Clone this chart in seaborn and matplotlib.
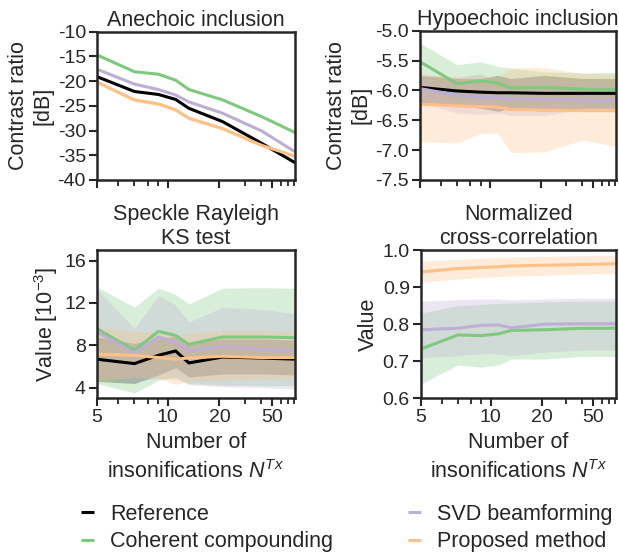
import numpy as np
import pandas as pd
import seaborn as sns
import matplotlib.pyplot as plt
from matplotlib.ticker import FixedLocator, NullFormatter

# 1. data
n_tx = [5, 7, 9, 11, 13, 21, 41, 81]
methods = ['Reference', 'Coherent compounding', 'SVD beamforming', 'Proposed method']

# anechoic contrast ratio [dB]
ane_ref = [-19.1, -22.1, -22.7, -23.7, -25.5, -28.2, -32.6, -36.5]
ane_cc = [-14.7, -18.1, -18.6, -19.8, -21.7, -23.8, -27.2, -30.4]
ane_svd = [-17.6, -20.6, -21.7, -22.8, -24.2, -26.5, -30.1, -34.3]
ane_prop = [-20.2, -23.8, -24.6, -25.8, -27.5, -29.6, -33.0, -35.2]
ane_prop_lo = [-20.6, -24.2, -25.0, -26.2, -27.9, -30.0, -33.4, -35.6]
ane_prop_hi = [-19.8, -23.4, -24.2, -25.4, -27.1, -29.2, -32.6, -34.8]

# hypoechoic contrast ratio [dB]
hyp_ref = [-5.95, -6.01, -6.03, -6.04, -6.04, -6.05, -6.05, -6.05]
hyp_ref_lo = [-6.20, -6.25, -6.30, -6.35, -6.30, -6.35, -6.30, -6.30]
hyp_ref_hi = [-5.75, -5.80, -5.80, -5.75, -5.80, -5.75, -5.80, -5.80]
hyp_cc = [-5.52, -5.89, -5.84, -5.88, -5.96, -5.95, -5.98, -5.99]
hyp_cc_lo = [-5.83, -6.20, -6.15, -6.17, -6.28, -6.22, -6.25, -6.28]
hyp_cc_hi = [-5.21, -5.57, -5.52, -5.60, -5.63, -5.69, -5.71, -5.70]
hyp_svd = [-5.97, -6.08, -6.11, -6.13, -6.14, -6.15, -6.16, -6.17]
hyp_svd_lo = [-6.20, -6.38, -6.40, -6.38, -6.42, -6.42, -6.32, -6.35]
hyp_svd_hi = [-5.75, -5.78, -5.72, -5.88, -5.80, -5.78, -5.85, -5.88]
hyp_prop = [-6.23, -6.26, -6.27, -6.28, -6.32, -6.33, -6.34, -6.34]
hyp_prop_lo = [-6.86, -6.88, -6.72, -6.72, -7.04, -7.03, -6.83, -6.94]
hyp_prop_hi = [-5.72, -5.78, -5.75, -5.78, -5.62, -5.62, -5.72, -5.72]

# speckle rayleigh KS test [1e-3]
spk_ref = [6.69, 6.28, 7.06, 7.47, 6.34, 6.90, 6.80, 6.70]
spk_ref_lo = [4.6, 4.4, 5.2, 5.9, 5.0, 5.3, 5.3, 5.2]
spk_ref_hi = [8.8, 8.2, 8.6, 8.9, 8.2, 8.6, 8.6, 8.5]
spk_cc = [9.57, 7.53, 9.32, 8.94, 8.10, 8.79, 8.79, 8.73]
spk_cc_lo = [4.4, 3.5, 4.7, 5.0, 4.4, 4.25, 4.2, 4.2]
spk_cc_hi = [13.5, 11.6, 13.4, 12.8, 11.9, 13.4, 13.45, 13.4]
spk_svd = [9.26, 7.28, 8.79, 8.32, 7.47, 7.91, 7.60, 7.47]
spk_svd_lo = [5.2, 4.6, 4.9, 4.8, 4.3, 4.1, 4.0, 3.9]
spk_svd_hi = [13.3, 9.6, 12.7, 11.8, 10.2, 11.6, 11.4, 11.0]
spk_prop = [7.16, 7.06, 6.85, 6.69, 6.81, 6.97, 6.85, 6.85]
spk_prop_lo = [4.6, 5.0, 4.9, 4.3, 4.6, 4.7, 4.8, 4.9]
spk_prop_hi = [9.7, 9.3, 9.3, 9.0, 9.1, 9.4, 9.4, 9.3]

# normalized cross-correlation
ncc_cc = [0.733, 0.771, 0.769, 0.774, 0.783, 0.785, 0.789, 0.789]
ncc_cc_lo = [0.639, 0.690, 0.684, 0.690, 0.706, 0.706, 0.713, 0.713]
ncc_cc_hi = [0.830, 0.850, 0.853, 0.856, 0.857, 0.860, 0.862, 0.862]
ncc_svd = [0.785, 0.789, 0.797, 0.798, 0.790, 0.800, 0.801, 0.801]
ncc_svd_lo = [0.710, 0.715, 0.720, 0.720, 0.715, 0.725, 0.730, 0.730]
ncc_svd_hi = [0.862, 0.866, 0.868, 0.868, 0.865, 0.868, 0.870, 0.870]
ncc_prop = [0.941, 0.950, 0.953, 0.955, 0.957, 0.959, 0.961, 0.963]
ncc_prop_lo = [0.913, 0.922, 0.926, 0.928, 0.930, 0.932, 0.935, 0.937]
ncc_prop_hi = [0.970, 0.975, 0.978, 0.980, 0.981, 0.983, 0.985, 0.986]

# 2. style
sns.set_style('ticks')
plt.rcParams['font.family'] = ['Liberation Sans', 'DejaVu Sans']
plt.rcParams['mathtext.fontset'] = 'custom'
plt.rcParams['mathtext.rm'] = 'Liberation Sans'
plt.rcParams['mathtext.it'] = 'Liberation Sans:italic'
plt.rcParams['axes.unicode_minus'] = False

acc = sns.color_palette('Accent')
palette = {'Reference': 'black', 'Coherent compounding': acc[0],
           'SVD beamforming': acc[1], 'Proposed method': acc[2]}

TICK_FS = 14
LABEL_FS = 15.5


def loglog_fwd(x):
    with np.errstate(invalid='ignore', divide='ignore'):
        return np.log(np.log(np.asarray(x, dtype=float)))


def loglog_inv(y):
    return np.exp(np.exp(y))


def draw_panel(ax, series, bands, title, ylabel, ylim, yticks, ytick_labels, bottom):
    # bands first, then the lines through seaborn
    for name, (lo, hi) in bands.items():
        ax.fill_between(n_tx, lo, hi, color=palette[name], alpha=0.3, lw=0)
    rows = []
    for name, vals in series.items():
        rows += [{'n_tx': x, 'value': v, 'method': name} for x, v in zip(n_tx, vals)]
    df = pd.DataFrame(rows)
    sns.lineplot(data=df, x='n_tx', y='value', hue='method', palette=palette,
                 hue_order=[m for m in methods if m in series], ax=ax,
                 legend=False, lw=2.2, errorbar=None)
    ax.set_xscale('function', functions=(loglog_fwd, loglog_inv))
    ax.set_xlim(5, 81)
    ax.xaxis.set_major_locator(FixedLocator([5, 10, 20, 50]))
    ax.xaxis.set_minor_locator(FixedLocator([6, 7, 8, 9, 30, 40, 60, 70, 80]))
    ax.xaxis.set_minor_formatter(NullFormatter())
    if bottom:
        ax.set_xticklabels(['5', '10', '20', '50'])
        ax.set_xlabel('Number of\ninsonifications $N^{Tx}$', fontsize=LABEL_FS,
                      labelpad=4, linespacing=1.4)
    else:
        ax.set_xticklabels([])
        ax.set_xlabel('')
    ax.set_ylim(*ylim)
    ax.set_yticks(yticks)
    ax.set_yticklabels(ytick_labels)
    ax.set_ylabel(ylabel, fontsize=LABEL_FS, labelpad=3)
    ax.set_title(title, fontsize=LABEL_FS, pad=4)
    ax.tick_params(which='major', length=6, width=1.5, labelsize=TICK_FS, pad=2)
    ax.tick_params(which='minor', length=4, width=1.3)
    for sp in ax.spines.values():
        sp.set_linewidth(1.8)


# 3. figure with four axes
fig = plt.figure(figsize=(6.19, 5.55), dpi=100)
ax_tl = fig.add_axes([0.1567, 0.6757, 0.3199, 0.2672])
ax_tr = fig.add_axes([0.6785, 0.6757, 0.3166, 0.2691])
ax_bl = fig.add_axes([0.1567, 0.2823, 0.3199, 0.2672])
ax_br = fig.add_axes([0.6801, 0.2823, 0.3150, 0.2672])

draw_panel(ax_tl,
           {'Reference': ane_ref, 'Coherent compounding': ane_cc,
            'SVD beamforming': ane_svd, 'Proposed method': ane_prop},
           {'Proposed method': (ane_prop_lo, ane_prop_hi)},
           'Anechoic inclusion', 'Contrast ratio\n[dB]', (-40, -10),
           [-40, -35, -30, -25, -20, -15, -10],
           ['-40', '-35', '-30', '-25', '-20', '-15', '-10'], False)

draw_panel(ax_tr,
           {'Reference': hyp_ref, 'Coherent compounding': hyp_cc,
            'SVD beamforming': hyp_svd, 'Proposed method': hyp_prop},
           {'Reference': (hyp_ref_lo, hyp_ref_hi),
            'Coherent compounding': (hyp_cc_lo, hyp_cc_hi),
            'SVD beamforming': (hyp_svd_lo, hyp_svd_hi),
            'Proposed method': (hyp_prop_lo, hyp_prop_hi)},
           'Hypoechoic inclusion', 'Contrast ratio\n[dB]', (-7.5, -5.0),
           [-7.5, -7.0, -6.5, -6.0, -5.5, -5.0],
           ['-7.5', '-7.0', '-6.5', '-6.0', '-5.5', '-5.0'], False)

draw_panel(ax_bl,
           {'Reference': spk_ref, 'Coherent compounding': spk_cc,
            'SVD beamforming': spk_svd, 'Proposed method': spk_prop},
           {'Reference': (spk_ref_lo, spk_ref_hi),
            'Coherent compounding': (spk_cc_lo, spk_cc_hi),
            'SVD beamforming': (spk_svd_lo, spk_svd_hi),
            'Proposed method': (spk_prop_lo, spk_prop_hi)},
           'Speckle Rayleigh\nKS test', 'Value [$10^{-3}$]', (3, 17),
           [4, 8, 12, 16], ['4', '8', '12', '16'], True)

draw_panel(ax_br,
           {'Coherent compounding': ncc_cc, 'SVD beamforming': ncc_svd,
            'Proposed method': ncc_prop},
           {'Coherent compounding': (ncc_cc_lo, ncc_cc_hi),
            'SVD beamforming': (ncc_svd_lo, ncc_svd_hi),
            'Proposed method': (ncc_prop_lo, ncc_prop_hi)},
           'Normalized\ncross-correlation', 'Value', (0.6, 1.0),
           [0.6, 0.7, 0.8, 0.9, 1.0], ['0.6', '0.7', '0.8', '0.9', '1.0'], True)

# 4. shared legend at the bottom
handles = [plt.Line2D([], [], color=palette[m], lw=2.2, solid_capstyle='butt') for m in methods]
fig.legend(handles, methods, ncol=2, loc='lower left', bbox_to_anchor=(0.1, -0.03),
           frameon=False, fontsize=LABEL_FS, handlelength=0.6, handletextpad=0.75,
           columnspacing=3.47, labelspacing=0.3)

fig.savefig('out.png', dpi=100)
